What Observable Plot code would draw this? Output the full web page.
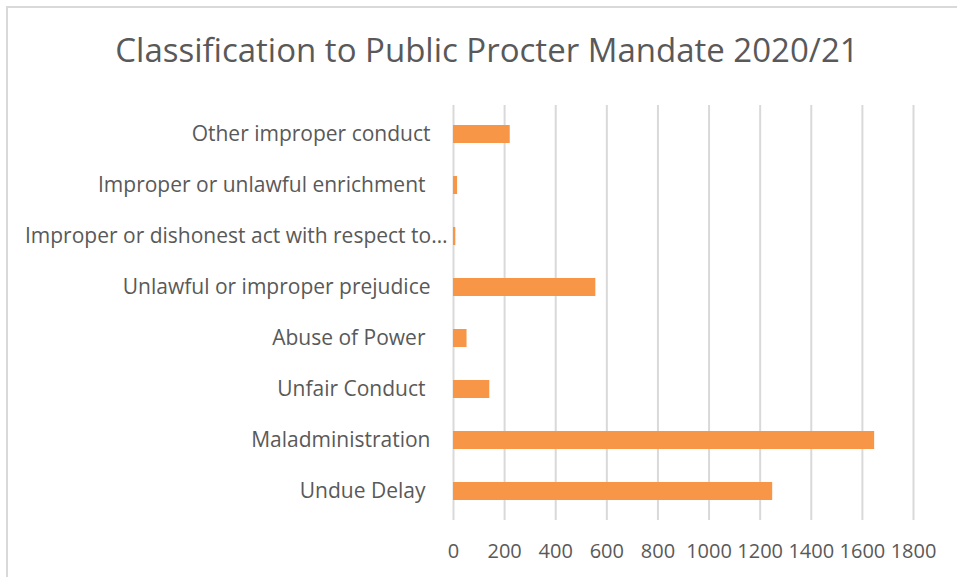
<!DOCTYPE html>
<html>
<head>
<meta charset="utf-8">
<script src="https://cdn.jsdelivr.net/npm/d3@7"></script>
<script src="https://cdn.jsdelivr.net/npm/@observablehq/plot@0.6"></script>
<style>
  html, body { margin: 0; padding: 0; background: #fff; }
  #wrap { position: relative; width: 957px; height: 577px; overflow: hidden; font-family: "Open Sans", sans-serif; }
  #frame { position: absolute; left: 6px; top: 6px; width: 1000px; height: 700px; border-left: 2px solid #d9d9d9; border-top: 2px solid #d9d9d9; }
  #title { position: absolute; left: 0; width: 974px; top: 28px; text-align: center; font-size: 33px; line-height: 44px; color: #595959; white-space: nowrap; }
  #chart { position: absolute; left: 0; top: 0; }
</style>
</head>
<body>
<div id="wrap">
  <div id="frame"></div>
  <div id="title">Classification to Public Procter Mandate 2020/21</div>
  <div id="chart"></div>
</div>
<script>
const categories = [
  "Other improper conduct",
  "Improper or unlawful enrichment",
  "Improper or dishonest act with respect to…",
  "Unlawful or improper prejudice",
  "Abuse of Power",
  "Unfair Conduct",
  "Maladministration",
  "Undue Delay"
];
const values = [222, 16, 9, 557, 53, 142, 1648, 1249];
const xTicks = [0, 200, 400, 600, 800, 1000, 1200, 1400, 1600, 1800];
const truncated = "Improper or dishonest act with respect to…";
const indented = ["Improper or unlawful enrichment", "Abuse of Power", "Unfair Conduct", "Undue Delay"];

const data = categories.map((c, i) => ({category: c, value: values[i]}));
const normal = categories.filter(c => c !== truncated && !indented.includes(c));

const chart = Plot.plot({
  width: 957,
  height: 577,
  marginLeft: 453,
  marginRight: 44,
  marginTop: 105,
  marginBottom: 57,
  style: {fontFamily: "Open Sans, sans-serif", color: "#595959", background: "transparent"},
  x: {domain: [0, 1800], label: null},
  y: {domain: categories, paddingInner: 0.65, paddingOuter: 0.325, label: null},
  marks: [
    Plot.gridX(xTicks, {stroke: "#d9d9d9", strokeOpacity: 1, strokeWidth: 2}),
    Plot.barX(data, {x: "value", y: "category", fill: "#F79646"}),
    Plot.axisX({ticks: xTicks, tickSize: 0, tickPadding: 23, fontSize: 20, fill: "#595959", tickFormat: d => String(d), label: null}),
    Plot.axisY({ticks: normal, tickSize: 0, tickPadding: 23, fontSize: 21, fill: "#595959", label: null}),
    Plot.axisY({ticks: indented, tickSize: 0, tickPadding: 28, fontSize: 21, fill: "#595959", label: null}),
    Plot.axisY({ticks: [truncated], tickSize: 0, tickPadding: 6, fontSize: 21, fill: "#595959", label: null})
  ]
});
document.getElementById("chart").appendChild(chart);
</script>
</body>
</html>
